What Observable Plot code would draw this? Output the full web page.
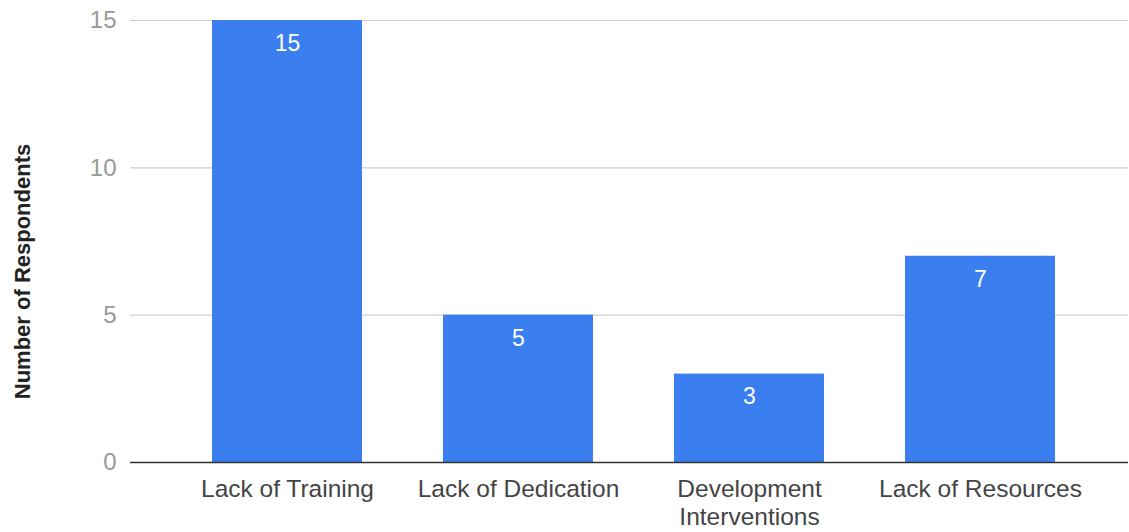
<!DOCTYPE html>
<html>
<head>
<meta charset="utf-8">
<script src="https://cdn.jsdelivr.net/npm/d3@7"></script>
<script src="https://cdn.jsdelivr.net/npm/@observablehq/plot@0.6"></script>
<style>
  html, body { margin: 0; padding: 0; background: #fff; }
  #chart svg { display: block; }
</style>
</head>
<body>
<div id="chart"></div>
<script>
const categories = ["Lack of Training", "Lack of Dedication", "Development Interventions", "Lack of Resources"];
const values = [15, 5, 3, 7];
const yTicks = [0, 5, 10, 15];
const tickLabels = {
  "Lack of Training": "Lack of Training",
  "Lack of Dedication": "Lack of Dedication",
  "Development Interventions": "Development\nInterventions",
  "Lack of Resources": "Lack of Resources"
};
const yTitle = "Number of Respondents";

const data = categories.map((c, i) => ({category: c, value: values[i]}));

const chart = Plot.plot({
  width: 1129,
  height: 532,
  marginTop: 20,
  marginBottom: 70,
  marginLeft: 130,
  marginRight: 1,
  style: {fontFamily: "'Liberation Sans', Arial, sans-serif", background: "#fff"},
  x: {domain: categories, padding: 0.35, paddingOuter: 0.335, align: 0.53, label: null},
  y: {domain: [0, 15], label: null},
  marks: [
    Plot.ruleY(yTicks.filter(d => d !== 0), {stroke: "#cfcfcf", strokeWidth: 1.2}),
    Plot.barY(data, {x: "category", y: "value", fill: "#3b7eef"}),
    Plot.ruleY([0], {stroke: "#333", strokeWidth: 1.6}),
    Plot.text(data, {x: "category", y: "value", text: d => String(d.value), dy: 23, fill: "#ffffff", fontSize: 23}),
    Plot.axisX({tickSize: 0, tickPadding: 14, fontSize: 24.5, fill: "#444", tickFormat: d => tickLabels[d], lineHeight: 1.15}),
    Plot.axisY({ticks: yTicks, tickSize: 0, tickPadding: 14, fontSize: 24, fill: "#999", label: null}),
    Plot.text([yTitle], {frameAnchor: "left", textAnchor: "middle", dx: -108, dy: 30, rotate: -90, fontWeight: "bold", fontSize: 22, fill: "#222"})
  ]
});
document.getElementById("chart").appendChild(chart);
</script>
</body>
</html>
